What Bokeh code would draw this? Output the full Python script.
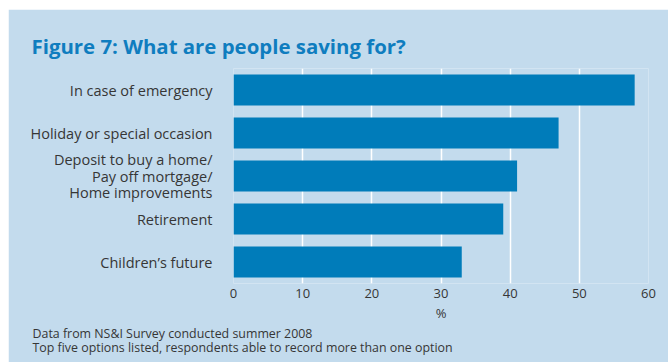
from bokeh.plotting import figure
from bokeh.models import Title, FixedTicker, Range1d, FactorRange
from bokeh.embed import file_html
from bokeh.resources import INLINE

# ---- data ----
categories = [
    "In case of emergency",
    "Holiday or special occasion",
    "Deposit to buy a home/\nPay off mortgage/\nHome improvements",
    "Retirement",
    "Children\u2019s future",
]
values = [58, 47, 41, 39, 33]
x_ticks = [0, 10, 20, 30, 40, 50, 60]
title_text = "Figure 7: What are people saving for?"
x_label = "%"
notes = [
    "Data from NS&I Survey conducted summer 2008",
    "Top five options listed, respondents able to record more than one option",
]

BG = "#c3dbed"
BAR = "#007cba"
TITLE_C = "#0f7dbf"
TXT = "#363636"
FONT = "Open Sans"

p = figure(
    width=660, height=353,
    y_range=FactorRange(*list(reversed(categories)), range_padding=0),
    x_range=Range1d(0, 60),
    output_backend="svg", toolbar_location=None,
    min_border_left=225, min_border_right=20,
    min_border_top=59, min_border_bottom=79,
)
p.margin = (9, 0, 0, 8)
p.background_fill_color = BG
p.border_fill_color = BG
p.outline_line_color = None

p.hbar(y=categories, right=values, left=0, height=0.72, color=BAR, line_color=None)

# grid
p.ygrid.grid_line_color = None
p.xgrid.grid_line_color = "white"
p.xgrid.grid_line_width = 1.5
p.xgrid.ticker = FixedTicker(ticks=x_ticks)

# x axis
xa = p.xaxis[0]
xa.ticker = FixedTicker(ticks=x_ticks)
xa.axis_line_color = None
xa.major_tick_line_color = None
xa.minor_tick_line_color = None
xa.major_tick_out = 0
xa.major_label_standoff = 5
xa.major_label_text_font = FONT
xa.major_label_text_font_size = "13px"
xa.major_label_text_color = TXT
xa.axis_label = x_label
xa.axis_label_text_font = FONT
xa.axis_label_text_font_size = "13px"
xa.axis_label_text_font_style = "normal"
xa.axis_label_text_color = TXT
xa.axis_label_standoff = 3

# y axis
ya = p.yaxis[0]
ya.axis_line_color = None
ya.major_tick_line_color = None
ya.major_tick_out = 0
ya.major_label_standoff = 21
ya.major_label_text_font = FONT
ya.major_label_text_font_size = "14.5px"
ya.major_label_text_color = TXT
ya.major_label_text_line_height = 0.88

# title
p.title.text = title_text
p.title.align = "left"
p.title.offset = -202
p.title.standoff = 18
p.title.text_font = FONT
p.title.text_font_style = "bold"
p.title.text_font_size = "20.4px"
p.title.text_color = TITLE_C

# notes below the axis (one two-line title)
p.add_layout(Title(text="\n".join(notes), align="left", offset=-201, standoff=-2,
                   text_font=FONT, text_font_style="normal",
                   text_font_size="12.4px", text_color=TXT,
                   text_line_height=0.84), "below")

open("out.html", "w").write(file_html(p, INLINE))
